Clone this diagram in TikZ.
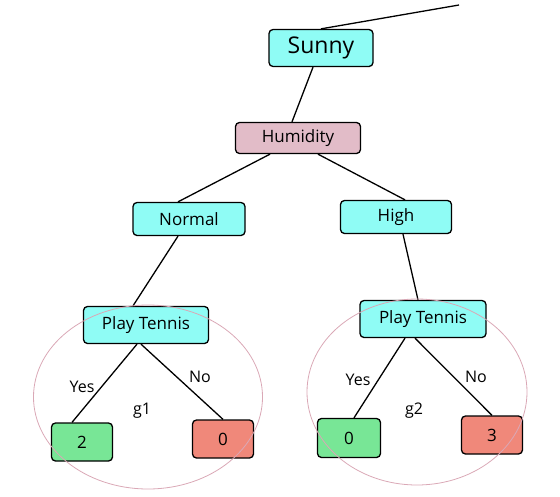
\documentclass[tikz,border=0pt]{standalone}
\usepackage{fontspec}
\setmainfont{Open Sans}
\definecolor{aqua}{RGB}{143,252,245}
\definecolor{rose}{RGB}{226,188,200}
\definecolor{leafyes}{RGB}{120,230,150}
\definecolor{leafno}{RGB}{240,136,122}
\definecolor{ring}{RGB}{218,168,182}
\tikzset{
  box/.style={draw=black, line width=1.3pt, rounded corners=4pt, inner sep=0pt, font=\fontsize{17}{20}\selectfont},
  link/.style={line width=1.3pt},
  lbl/.style={font=\fontsize{16}{19}\selectfont},
  group/.style={draw=ring, line width=0.8pt}
}
\begin{document}
\begin{tikzpicture}[x=1pt, y=-1pt]
    \useasboundingbox (0,0) rectangle (560,496) ;
    % upper part of the tree
    \coordinate (root) at (459,5) ;
    \node [box, fill=aqua, minimum width=104pt, minimum height=37pt, font=\fontsize{23}{26}\selectfont] (sunny) at (321,48) {Sunny} ;
    \node [box, fill=rose, minimum width=125pt, minimum height=31pt] (hum) at (298,138) {Humidity} ;
    \node [box, fill=aqua, minimum width=112pt, minimum height=33pt] (normal) at (189,219) {Normal} ;
    \node [box, fill=aqua, minimum width=111pt, minimum height=33pt] (high) at (396,217) {High} ;
    \draw [link] (root) -- (sunny.north) ;
    \draw [link] ([xshift=-8pt]sunny.south) -- ([xshift=-6pt]hum.north) ;
    \draw [link] ([xshift=-28pt]hum.south) -- ([xshift=-11pt]normal.north) ;
    \draw [link] ([xshift=20pt]hum.south) -- ([xshift=9pt]high.north) ;
    % left group
    \node [box, fill=aqua, minimum width=125pt, minimum height=37pt] (play1) at (146,325) {Play Tennis} ;
    \node [box, fill=leafyes, minimum width=61pt, minimum height=38pt] (yes1) at (82,442) {2} ;
    \node [box, fill=leafno, minimum width=61pt, minimum height=38pt] (no1) at (223,439) {0} ;
    \draw [link] ([xshift=-11pt]normal.south) -- ([xshift=-13pt]play1.north) ;
    \draw [link] ([xshift=-9pt]play1.south) -- ([xshift=-10pt]yes1.north) ;
    \draw [link] ([xshift=-5pt]play1.south) -- (no1.north) ;
    \node [lbl] (yeslbl1) at (82,387) {Yes} ;
    \node [lbl] (nolbl1) at (200,377) {No} ;
    \node [lbl] (g1) at (142,411) {g1} ;
    \draw [group] (148,397) ellipse (114.5 and 92) ;
    % right group
    \node [box, fill=aqua, minimum width=126pt, minimum height=37pt] (play2) at (423,319) {Play Tennis} ;
    \node [box, fill=leafyes, minimum width=63pt, minimum height=39pt] (yes2) at (349,438) {0} ;
    \node [box, fill=leafno, minimum width=61pt, minimum height=38pt] (no2) at (492,435) {3} ;
    \draw [link] ([xshift=7pt]high.south) -- ([xshift=-5pt]play2.north) ;
    \draw [link] ([xshift=-18pt]play2.south) -- ([xshift=5pt]yes2.north) ;
    \draw [link] ([xshift=-8pt]play2.south) -- (no2.north) ;
    \node [lbl] (yeslbl2) at (358,380) {Yes} ;
    \node [lbl] (nolbl2) at (476,377) {No} ;
    \node [lbl] (g2) at (414,411) {g2} ;
    \draw [group] (417,392) ellipse (110 and 93) ;
\end{tikzpicture}
\end{document}
